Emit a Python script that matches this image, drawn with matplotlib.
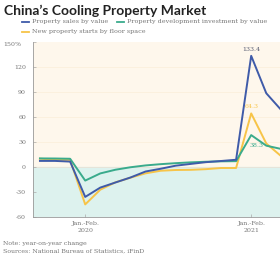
import numpy as np
import matplotlib
matplotlib.use("Agg")
import matplotlib.pyplot as plt

# cumulative y/y change, Oct 2019 .. May 2021 (Jan-Feb combined)
periods = ["Oct 2019", "Nov 2019", "Dec 2019", "Jan.-Feb.\n2020", "Mar 2020", "Apr 2020",
           "May 2020", "Jun 2020", "Jul 2020", "Aug 2020", "Sep 2020", "Oct 2020",
           "Nov 2020", "Dec 2020", "Jan.-Feb.\n2021", "Mar 2021", "Apr 2021", "May 2021"]
sales = [7.3, 7.3, 6.5, -35.9, -24.7, -18.6, -12.6, -5.4, -2.1, 1.6, 3.7, 5.8, 7.2, 8.7,
         133.4, 88.5, 68.2, 52.4]
investment = [10.3, 10.2, 9.9, -16.3, -7.7, -3.3, -0.3, 1.9, 3.4, 4.6, 5.6, 6.3, 6.8, 7.0,
              38.3, 25.6, 21.6, 18.3]
starts = [10.0, 8.6, 8.5, -44.9, -27.2, -18.4, -12.8, -7.6, -4.5, -3.6, -3.4, -2.6, -1.2, -1.2,
          64.3, 28.2, 12.8, 6.9]
yticks = [150, 120, 90, 60, 30, 0, -30, -60]
xlabel_idx = [3, 14]

blue = "#3f5ba9"
green = "#3aab8c"
orange = "#f7c448"
grey = "#777777"
serif = "DejaVu Serif"

x = np.arange(len(periods))

fig = plt.figure(figsize=(2.8, 2.54), dpi=100)
ax = fig.add_axes([33 / 280, 1 - 217 / 254, 271 / 280, 175 / 254])

ax.set_xlim(-0.46, 17.5)
ax.set_ylim(-60, 150)
ax.axhspan(0, 150, color="#fef7ec", zorder=0)
ax.axhspan(-60, 0, color="#ddf2ee", zorder=0)
for t in [30, 60, 90, 120]:
    ax.axhline(t, color="#fbefdc", lw=0.6, zorder=0.5)
ax.axhline(0, color="#e8e2d6", lw=0.6, zorder=0.5)

ax.plot(x, starts, color=orange, lw=1.4, zorder=2)
ax.plot(x, investment, color=green, lw=1.4, zorder=3)
ax.plot(x, sales, color=blue, lw=1.4, zorder=4)

ax.annotate(f"{sales[14]}", (x[14], sales[14]), xytext=(0, 3), textcoords="offset points",
            ha="center", va="bottom", fontsize=4.5, color="#555a70", family=serif)
ax.annotate(f"{starts[14]}", (x[14], starts[14]), xytext=(0, 3), textcoords="offset points",
            ha="center", va="bottom", fontsize=4.5, color=orange, family=serif)
ax.annotate(f"{investment[14]}", (x[14], investment[14]), xytext=(4, -6), textcoords="offset points",
            ha="center", va="top", fontsize=4.5, color=green, family=serif)

for s in ["top", "right"]:
    ax.spines[s].set_visible(False)
for s in ["left", "bottom"]:
    ax.spines[s].set_color("#999999")
    ax.spines[s].set_linewidth(0.6)

ax.set_yticks(yticks)
ax.set_yticklabels(["" if t == 150 else str(t) for t in yticks], fontsize=4.5,
                   color=grey, family=serif)
ax.set_xticks([x[i] for i in xlabel_idx])
ax.set_xticklabels([periods[i] for i in xlabel_idx], fontsize=4.5, color=grey,
                   family=serif, linespacing=1.5)
ax.tick_params(axis="both", direction="in", length=2, width=0.5, color="#aaaaaa", pad=3)
ax.tick_params(axis="y", pad=5)

fig.text(3 / 280, 1 - 44 / 254, "150%", fontsize=4.5, color=grey, family=serif, va="center")

fig.text(4 / 280, 1 - 11 / 254, "China\u2019s Cooling Property Market", fontsize=10,
         fontweight="bold", family="Lato", color="#222222", va="center")

legend = [(22, 22, blue, "Property sales by value"),
          (117, 22, green, "Property development investment by value"),
          (22, 32, orange, "New property starts by floor space")]
for lx, ly, c, lab in legend:
    fig.add_artist(plt.Line2D([lx / 280, (lx + 7) / 280], [1 - ly / 254] * 2, color=c, lw=1.3))
    fig.text((lx + 10) / 280, 1 - ly / 254, lab, fontsize=4.6, color=grey, family=serif,
             va="center")

fig.text(3 / 280, 1 - 243 / 254, "Note: year-on-year change", fontsize=4.5, color=grey,
         family=serif, va="center")
fig.text(3 / 280, 1 - 251 / 254, "Sources: National Bureau of Statistics, iFinD", fontsize=4.5,
         color=grey, family=serif, va="center")

fig.savefig("out.png", dpi=100)
